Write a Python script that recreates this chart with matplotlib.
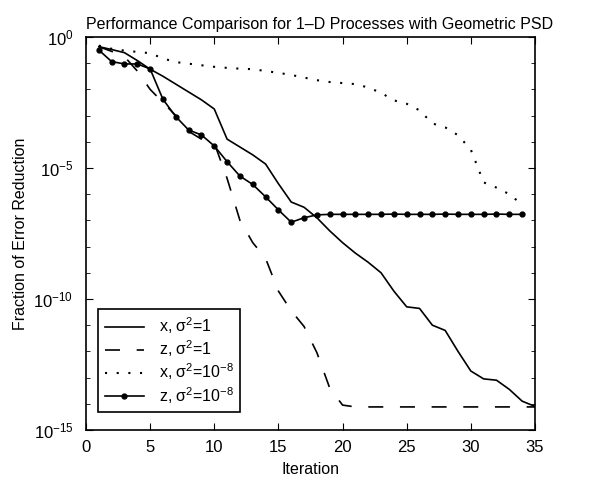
import numpy as np
import matplotlib
matplotlib.use('Agg')
import matplotlib.pyplot as plt
from matplotlib.ticker import FixedLocator, NullFormatter

plt.rcParams['font.family'] = ['Liberation Sans', 'DejaVu Sans']
plt.rcParams['mathtext.fontset'] = 'custom'
plt.rcParams['mathtext.rm'] = 'Liberation Sans'
plt.rcParams['mathtext.it'] = 'Liberation Sans'
plt.rcParams['mathtext.default'] = 'regular'

# log10 of fraction of error reduction
it_x1 = list(range(1, 36))
x_s1 = [-0.37, -0.48, -0.60, -0.90, -1.23, -1.50, -1.80, -2.10, -2.40, -2.75,
        -3.90, -4.20, -4.50, -4.85, -5.60, -6.30, -6.50, -6.90, -7.40, -7.85,
        -8.25, -8.60, -9.00, -9.70, -10.30, -10.36, -11.00, -11.20, -12.00, -12.75,
        -13.05, -13.10, -13.45, -13.90, -14.10]

it_z1 = list(range(1, 36))
z_s1 = [-0.37, -0.55, -0.75, -1.30, -2.00, -2.50, -3.00, -3.60, -3.90, -4.05,
        -5.40, -7.00, -7.85, -8.45, -9.70, -10.45, -11.05, -12.05, -13.40, -14.05,
        -14.12, -14.12, -14.12, -14.12, -14.12, -14.12, -14.12, -14.12, -14.12, -14.12,
        -14.12, -14.12, -14.12, -14.12, -14.12]

it_x8 = list(range(1, 35))
x_s8 = [-0.33, -0.45, -0.52, -0.57, -0.62, -0.82, -0.96, -1.02, -1.08, -1.14,
        -1.18, -1.21, -1.23, -1.30, -1.37, -1.45, -1.55, -1.65, -1.72, -1.76,
        -1.80, -1.93, -2.13, -2.42, -2.55, -2.80, -3.30, -3.45, -3.75, -4.30,
        -5.55, -5.75, -6.00, -6.40]

it_z8 = list(range(1, 35))
z_s8 = [-0.50, -0.94, -1.03, -1.03, -1.22, -2.38, -3.04, -3.55, -3.74, -4.16,
        -4.76, -5.31, -5.63, -6.10, -6.60, -7.07, -6.90, -6.79, -6.77, -6.77,
        -6.77, -6.77, -6.77, -6.76, -6.77, -6.77, -6.77, -6.76, -6.77, -6.77,
        -6.77, -6.76, -6.77, -6.77]

labels = ['x, σ$^2$=1', 'z, σ$^2$=1', 'x, σ$^2$=10$^{-8}$', 'z, σ$^2$=10$^{-8}$']

fig = plt.figure(figsize=(5.91, 4.8), dpi=100)
ax = fig.add_axes([0.1455, 0.1042, 0.7597, 0.8188])

ax.semilogy(it_x1, 10.0 ** np.array(x_s1), color='k', lw=1.2, label=labels[0])
ax.semilogy(it_z1, 10.0 ** np.array(z_s1), color='k', lw=1.2, linestyle=(0, (9, 10)), label=labels[1])
ax.semilogy(it_x8, 10.0 ** np.array(x_s8), color='k', lw=1.5, linestyle=(0, (1, 4.6)), label=labels[2])
ax.semilogy(it_z8, 10.0 ** np.array(z_s8), color='k', lw=1.2, marker='o', markersize=3.5, label=labels[3])

ax.set_xlim(0, 35)
ax.set_ylim(1e-15, 1)
ax.xaxis.set_major_locator(FixedLocator([0, 5, 10, 15, 20, 25, 30, 35]))
ax.yaxis.set_major_locator(FixedLocator([1e0, 1e-5, 1e-10, 1e-15]))
ax.yaxis.set_minor_locator(FixedLocator([10.0 ** -k for k in range(16)]))
ax.yaxis.set_minor_formatter(NullFormatter())
ax.set_yticklabels(['10$^{0}$', '10$^{-5}$', '10$^{-10}$', '10$^{-15}$'])
ax.tick_params(which='both', direction='in', top=True, right=True, labelsize=12)
ax.tick_params(which='major', length=5)
ax.tick_params(which='minor', length=3)
ax.tick_params(axis='y', pad=9)
ax.tick_params(axis='x', pad=7)
for s in ax.spines.values():
    s.set_linewidth(1.2)

ax.set_title('Performance Comparison for 1\u2013D Processes with Geometric PSD', fontsize=11.5, pad=6, x=0.52)
ax.set_xlabel('Iteration', fontsize=11.5, labelpad=5)
ax.set_ylabel('Fraction of Error Reduction', fontsize=11.5, labelpad=4)

leg = ax.legend(loc='lower left', bbox_to_anchor=(0.027, 0.046), borderaxespad=0,
                fontsize=11.5, fancybox=False, edgecolor='k', framealpha=1,
                handlelength=2.5, labelspacing=0.15, handletextpad=0.9, borderpad=0.4)
leg.get_frame().set_linewidth(1.2)

fig.savefig('out.png', dpi=100)
